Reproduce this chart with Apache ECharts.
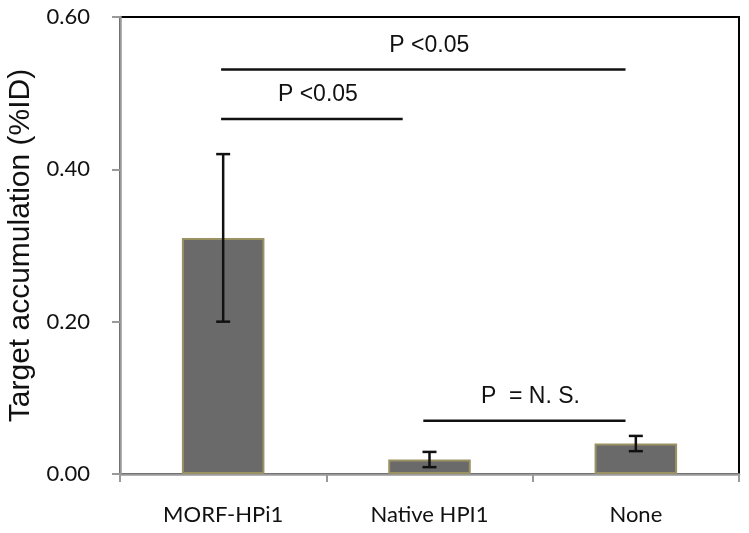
<!DOCTYPE html>
<html>
<head>
<meta charset="utf-8">
<script src="https://cdn.jsdelivr.net/npm/echarts@6/dist/echarts.min.js"></script>
<style>
  html, body { margin: 0; padding: 0; background: #fff; }
  #chart { width: 749px; height: 533px; }
</style>
</head>
<body>
<div id="chart"></div>
<script>
var categories = ['MORF-HPi1', 'Native HPI1', 'None'];
var means = [0.31, 0.019, 0.04];
var errors = [0.11, 0.01, 0.01];
var yTicks = ['0.00', '0.20', '0.40', '0.60'];
// significance brackets: [from, to, level, text] on a 0..3 helper axis
var bracketFrom = [0.49, 0.49, 1.47];
var bracketTo = [2.45, 1.37, 2.45];
var bracketLevel = [0.531, 0.466, 0.070];
var bracketText = ['P <0.05', 'P <0.05', 'P  = N. S.'];

var errData = categories.map(function (c, i) {
  return [i, means[i] - errors[i], means[i] + errors[i]];
});
var bracketData = bracketText.map(function (t, i) {
  return [bracketFrom[i], bracketTo[i], bracketLevel[i], t];
});

var myChart = echarts.init(document.getElementById('chart'));
var option = {
  animation: false,
  grid: {
    left: 120, right: 10, top: 17, bottom: 59,
    containLabel: false, outerBoundsMode: 'none',
    show: true, borderColor: '#000', borderWidth: 2
  },
  xAxis: [
    {
      type: 'category',
      data: categories,
      axisLine: { lineStyle: { color: '#999', width: 2.5 } },
      axisTick: { show: true, length: 8, lineStyle: { color: '#999', width: 2 } },
      axisLabel: { color: '#111', fontSize: 22, fontFamily: 'Lato', margin: 30 }
    },
    { type: 'value', min: 0, max: 3, show: false }
  ],
  yAxis: {
    type: 'value',
    min: 0, max: 0.6, interval: 0.2,
    name: 'Target accumulation (%ID)',
    nameLocation: 'middle',
    nameGap: 82,
    nameTextStyle: { fontSize: 30, fontFamily: 'Liberation Sans', color: '#111' },
    splitLine: { show: false },
    axisLine: { show: true, lineStyle: { color: '#999', width: 2.5 } },
    axisTick: { show: true, length: 8, lineStyle: { color: '#999', width: 2 } },
    axisLabel: {
      color: '#111', fontSize: 22, fontFamily: 'Lato', margin: 30,
      formatter: function (v) { return yTicks[Math.round(v / 0.2)]; }
    }
  },
  series: [
    {
      type: 'bar',
      data: means,
      barWidth: '40%',
      itemStyle: { color: '#6a6a6a', borderColor: '#9b9264', borderWidth: 2 }
    },
    {
      type: 'custom',
      data: errData,
      z: 5,
      renderItem: function (params, api) {
        var lo = api.coord([api.value(0), api.value(1)]);
        var hi = api.coord([api.value(0), api.value(2)]);
        var w = 7;
        var st = { stroke: '#111', lineWidth: 2.5 };
        return {
          type: 'group',
          children: [
            { type: 'line', shape: { x1: hi[0], y1: hi[1], x2: lo[0], y2: lo[1] }, style: st },
            { type: 'line', shape: { x1: hi[0] - w, y1: hi[1], x2: hi[0] + w, y2: hi[1] }, style: st },
            { type: 'line', shape: { x1: lo[0] - w, y1: lo[1], x2: lo[0] + w, y2: lo[1] }, style: st }
          ]
        };
      }
    },
    {
      type: 'custom',
      xAxisIndex: 1,
      data: bracketData,
      z: 5,
      renderItem: function (params, api) {
        var a = api.coord([api.value(0), api.value(2)]);
        var b = api.coord([api.value(1), api.value(2)]);
        return {
          type: 'group',
          children: [
            { type: 'line', shape: { x1: a[0], y1: a[1], x2: b[0], y2: b[1] }, style: { stroke: '#111', lineWidth: 2.5 } },
            {
              type: 'text',
              style: {
                text: api.value(3), x: (a[0] + b[0]) / 2 + 6, y: a[1] - 24,
                align: 'center', verticalAlign: 'middle',
                font: '23px "Liberation Sans"', fill: '#111'
              }
            }
          ]
        };
      }
    }
  ]
};
myChart.setOption(option);
window.addEventListener('resize', () => { myChart.resize() })
</script>
</body>
</html>
